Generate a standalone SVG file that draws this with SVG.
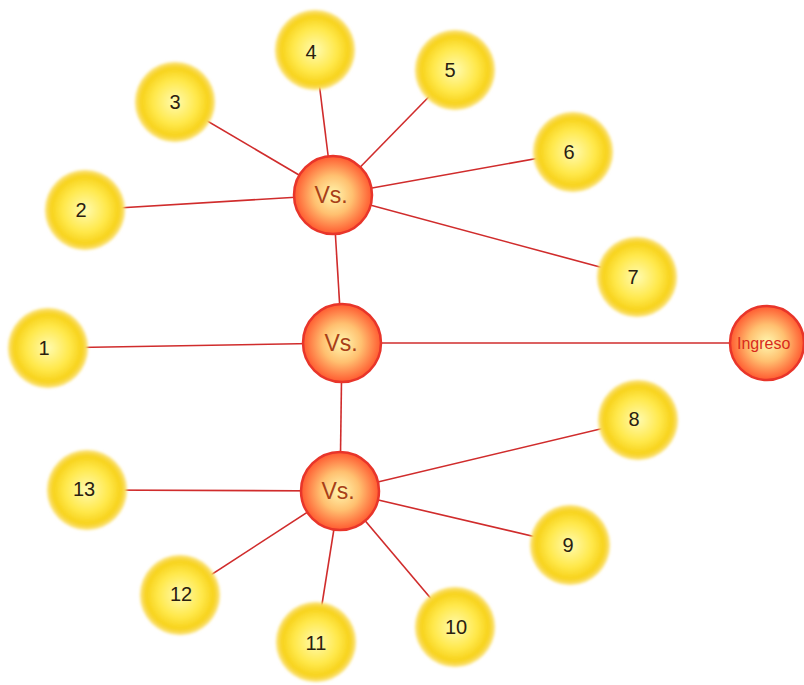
<svg xmlns="http://www.w3.org/2000/svg" width="804" height="685" viewBox="0 0 804 685">
<defs>
<radialGradient id="gy" cx="0.5" cy="0.5" r="0.5">
<stop offset="0" stop-color="#fffbb0"/>
<stop offset="0.55" stop-color="#ffe84a"/>
<stop offset="0.85" stop-color="#f7d21a"/>
<stop offset="1" stop-color="#fbe27a"/>
</radialGradient>
<radialGradient id="gr" cx="0.5" cy="0.5" r="0.5">
<stop offset="0" stop-color="#fff8b0"/>
<stop offset="0.5" stop-color="#ffc070"/>
<stop offset="1" stop-color="#ff5a30"/>
</radialGradient>
<filter id="blur" x="-10%" y="-10%" width="120%" height="120%"><feGaussianBlur stdDeviation="1.5"/></filter>
</defs>
<style>
.c line{stroke:#d02c2c;stroke-width:1.6}
.y circle{fill:url(#gy);filter:url(#blur)}
.h circle{fill:url(#gr);stroke:#e8352a;stroke-width:2.5}
.y text{font-family:"Liberation Sans",Arial,sans-serif;font-size:20px;fill:#2a2010;text-anchor:middle}
.h text{font-family:"Liberation Sans",Arial,sans-serif;font-size:23px;fill:#a84018;text-anchor:middle}
</style>
<rect width="804" height="685" fill="#ffffff"/>
<g id="connectors" class="c">
<line x1="333" y1="195" x2="342" y2="343"/>
<line x1="342" y1="343" x2="340" y2="491"/>
<line x1="342" y1="343" x2="767" y2="343"/>
<line x1="342" y1="343" x2="48" y2="348"/>
<line x1="333" y1="195" x2="85" y2="210"/>
<line x1="333" y1="195" x2="175" y2="102"/>
<line x1="333" y1="195" x2="315" y2="50"/>
<line x1="333" y1="195" x2="455" y2="70"/>
<line x1="333" y1="195" x2="573" y2="152"/>
<line x1="333" y1="195" x2="637" y2="277"/>
<line x1="340" y1="491" x2="638" y2="420"/>
<line x1="340" y1="491" x2="570" y2="545"/>
<line x1="340" y1="491" x2="455" y2="627"/>
<line x1="340" y1="491" x2="316" y2="642"/>
<line x1="340" y1="491" x2="180" y2="595"/>
<line x1="340" y1="491" x2="87" y2="490"/>
</g>
<g id="n1" class="y"><circle cx="48" cy="348" r="40"/><text x="44" y="355">1</text></g>
<g id="n2" class="y"><circle cx="85" cy="210" r="40"/><text x="81" y="217">2</text></g>
<g id="n3" class="y"><circle cx="175" cy="102" r="40"/><text x="175" y="109">3</text></g>
<g id="n4" class="y"><circle cx="315" cy="50" r="40"/><text x="311" y="59">4</text></g>
<g id="n5" class="y"><circle cx="455" cy="70" r="40"/><text x="450" y="77">5</text></g>
<g id="n6" class="y"><circle cx="573" cy="152" r="40"/><text x="569" y="159">6</text></g>
<g id="n7" class="y"><circle cx="637" cy="277" r="40"/><text x="633" y="284">7</text></g>
<g id="n8" class="y"><circle cx="638" cy="420" r="40"/><text x="634" y="426">8</text></g>
<g id="n9" class="y"><circle cx="570" cy="545" r="40"/><text x="568" y="552">9</text></g>
<g id="n10" class="y"><circle cx="455" cy="627" r="40"/><text x="456" y="634">10</text></g>
<g id="n11" class="y"><circle cx="316" cy="642" r="40"/><text x="316" y="650">11</text></g>
<g id="n12" class="y"><circle cx="180" cy="595" r="40"/><text x="181" y="601">12</text></g>
<g id="n13" class="y"><circle cx="87" cy="490" r="40"/><text x="84" y="496">13</text></g>
<g id="vs1" class="h"><circle cx="333" cy="195" r="39"/><text x="331" y="203">Vs.</text></g>
<g id="vs2" class="h"><circle cx="342" cy="343" r="39"/><text x="341" y="351">Vs.</text></g>
<g id="vs3" class="h"><circle cx="340" cy="491" r="39"/><text x="338" y="499">Vs.</text></g>
<g id="ingreso" class="h"><circle cx="767" cy="343" r="37"/><text x="737" y="349" style="font-size:16px;fill:#d82a1c;text-anchor:start">Ingreso</text></g>
</svg>
